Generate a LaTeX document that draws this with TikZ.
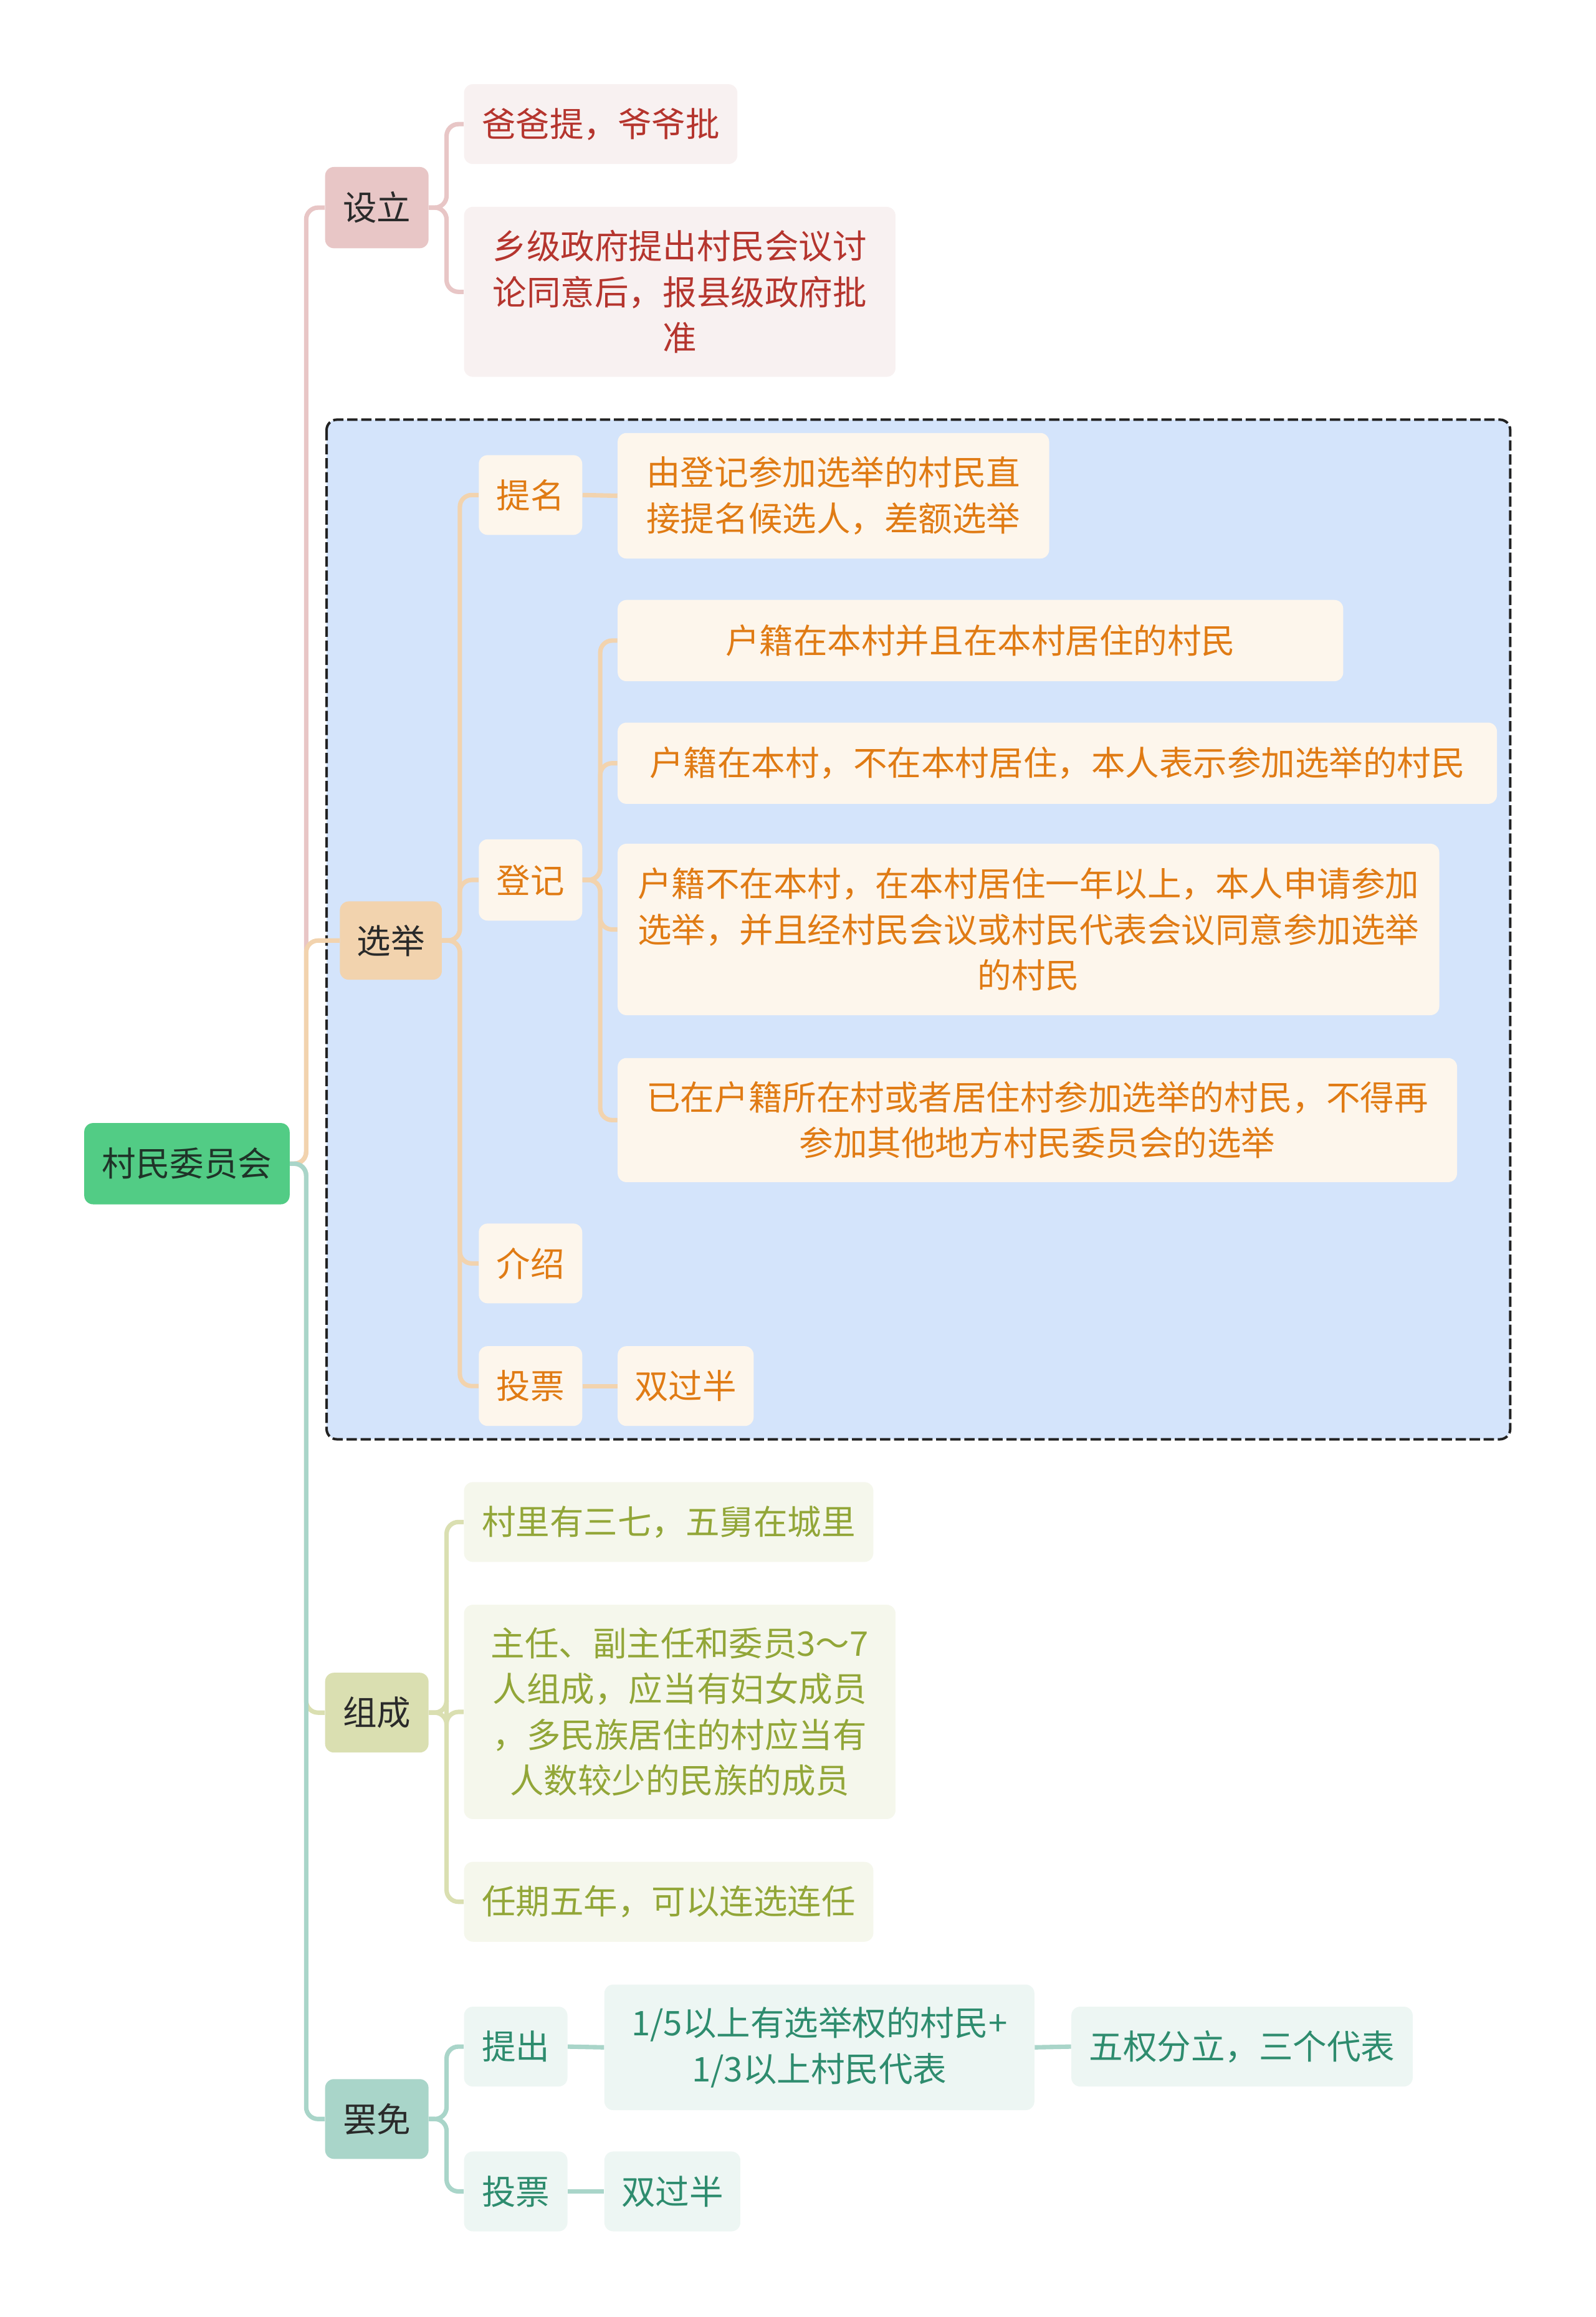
\documentclass[tikz,border=0pt]{standalone}
\usepackage{fontspec}
\newfontfamily\cjk{Noto Sans CJK SC}
\pgfdeclarelayer{bottom}
\pgfdeclarelayer{links}
\pgfsetlayers{bottom,links,main}
\definecolor{rootfill}{HTML}{52CC85}
\definecolor{roottext}{HTML}{1F3328}
\definecolor{lvtext}{HTML}{2A2A2A}
\definecolor{slfill}{HTML}{E8C6C6}
\definecolor{slchild}{HTML}{F8F1F1}
\definecolor{sltext}{HTML}{B5352E}
\definecolor{xjfill}{HTML}{F2D3AE}
\definecolor{xjchild}{HTML}{FDF6EC}
\definecolor{xjtext}{HTML}{E07B14}
\definecolor{zcfill}{HTML}{DADFB1}
\definecolor{zcchild}{HTML}{F5F7EC}
\definecolor{zctext}{HTML}{92A638}
\definecolor{bmfill}{HTML}{A9D5C9}
\definecolor{bmchild}{HTML}{EDF6F3}
\definecolor{bmtext}{HTML}{2E8C6E}
\definecolor{groupfill}{HTML}{D4E4FB}
\definecolor{groupline}{HTML}{222222}
\tikzset{
  nbox/.style={rounded corners=6pt, inner sep=0pt, align=center, anchor=center,
    font=\cjk\fontsize{23}{31}\selectfont},
  rootnode/.style={nbox, fill=rootfill, text=roottext},
  slnode/.style={nbox, fill=slfill, text=lvtext},
  slleaf/.style={nbox, fill=slchild, text=sltext},
  xjnode/.style={nbox, fill=xjfill, text=lvtext},
  xjleaf/.style={nbox, fill=xjchild, text=xjtext},
  zcnode/.style={nbox, fill=zcfill, text=lvtext},
  zcleaf/.style={nbox, fill=zcchild, text=zctext},
  bmnode/.style={nbox, fill=bmfill, text=lvtext},
  bmleaf/.style={nbox, fill=bmchild, text=bmtext},
  conn/.style={line width=3pt, rounded corners=8pt},
  slconn/.style={conn, draw=slfill},
  xjconn/.style={conn, draw=xjfill},
  zcconn/.style={conn, draw=zcfill},
  bmconn/.style={conn, draw=bmfill},
  groupbox/.style={fill=groupfill, draw=groupline, line width=1.7pt, dash pattern=on 7pt off 2.5pt, rounded corners=7pt}
}
\begin{document}
\begin{tikzpicture}[x=1pt,y=-1pt]
\useasboundingbox (0,0) rectangle (1080,1568);
\begin{pgfonlayer}{bottom}
\fill[white] (0,0) rectangle (1080,1568);
\path[groupbox] (221,284) rectangle (1022,974);
\end{pgfonlayer}

% nodes
\node[rootnode, minimum width=139pt, minimum height=55pt] (root) at (126.5,787.5) {村民委员会};

\node[slnode, minimum width=70pt, minimum height=55pt] (sl) at (255,140.5) {设立};
\node[slleaf, minimum width=185pt, minimum height=54pt] (sl1) at (406.5,84) {爸爸提，爷爷批};
\node[slleaf, minimum width=292pt, minimum height=115pt] (sl2) at (460,197.5) {乡级政府提出村民会议讨\\论同意后，报县级政府批\\准};

\node[xjnode, minimum width=69pt, minimum height=53pt] (xj) at (264.5,636.5) {选举};
\node[xjleaf, minimum width=70pt, minimum height=54pt] (tm) at (359,335) {提名};
\node[xjleaf, minimum width=292pt, minimum height=85pt] (tm1) at (564,335.5) {由登记参加选举的村民直\\接提名候选人，差额选举};
\node[xjleaf, minimum width=70pt, minimum height=55pt] (dj) at (359,595.5) {登记};
\node[xjleaf, minimum width=491pt, minimum height=55pt] (dj1) at (663.5,433.5) {户籍在本村并且在本村居住的村民};
\node[xjleaf, minimum width=595pt, minimum height=55pt] (dj2) at (715.5,516.5) {户籍在本村，不在本村居住，本人表示参加选举的村民};
\node[xjleaf, minimum width=556pt, minimum height=116pt] (dj3) at (696,629) {户籍不在本村，在本村居住一年以上，本人申请参加\\选举，并且经村民会议或村民代表会议同意参加选举\\的村民};
\node[xjleaf, minimum width=568pt, minimum height=84pt] (dj4) at (702,758) {已在户籍所在村或者居住村参加选举的村民，不得再\\参加其他地方村民委员会的选举};
\node[xjleaf, minimum width=70pt, minimum height=54pt] (js) at (359,855) {介绍};
\node[xjleaf, minimum width=70pt, minimum height=54pt] (tp) at (359,938) {投票};
\node[xjleaf, minimum width=92pt, minimum height=54pt] (tp1) at (464,938) {双过半};

\node[zcnode, minimum width=70pt, minimum height=54pt] (zc) at (255,1159) {组成};
\node[zcleaf, minimum width=277pt, minimum height=54pt] (zc1) at (452.5,1030) {村里有三七，五舅在城里};
\node[zcleaf, minimum width=292pt, minimum height=145pt] (zc2) at (460,1158.5) {主任、副主任和委员3～7\\人组成，应当有妇女成员\\，多民族居住的村应当有\\人数较少的民族的成员};
\node[zcleaf, minimum width=277pt, minimum height=54pt] (zc3) at (452.5,1287) {任期五年，可以连选连任};

\node[bmnode, minimum width=70pt, minimum height=54pt] (bm) at (255,1434) {罢免};
\node[bmleaf, minimum width=70pt, minimum height=54pt] (tc) at (349,1385) {提出};
\node[bmleaf, minimum width=291pt, minimum height=85pt] (tc1) at (554.5,1385.5) {1/5以上有选举权的村民+\\1/3以上村民代表};
\node[bmleaf, minimum width=231pt, minimum height=54pt] (tc2) at (840.5,1385) {五权分立，三个代表};
\node[bmleaf, minimum width=70pt, minimum height=54pt] (bt) at (349,1483) {投票};
\node[bmleaf, minimum width=92pt, minimum height=54pt] (bt1) at (455,1483) {双过半};

% connectors (behind nodes)
\begin{pgfonlayer}{links}
\draw[slconn] (root.east) -- ++(11,0) |- (sl.west);
\draw[zcconn] (root.east) -- ++(11,0) |- (zc.west);
\draw[xjconn] (root.east) -- ++(11,0) |- (xj.west);
\draw[bmconn] (root.east) -- ++(11,0) |- (bm.west);

\draw[slconn] (sl.east) -- ++(12,0) |- (sl1.west);
\draw[slconn] (sl.east) -- ++(12,0) |- (sl2.west);

\draw[xjconn] (xj.east) -- ++(12,0) |- (tm.west);
\draw[xjconn] (xj.east) -- ++(12,0) |- (dj.west);
\draw[xjconn] (xj.east) -- ++(12,0) |- (js.west);
\draw[xjconn] (xj.east) -- ++(12,0) |- (tp.west);
\draw[xjconn] (tm.east) -- (tm1.west);
\draw[xjconn] (dj.east) -- ++(12,0) |- (dj1.west);
\draw[xjconn] (dj.east) -- ++(12,0) |- (dj2.west);
\draw[xjconn] (dj.east) -- ++(12,0) |- (dj3.west);
\draw[xjconn] (dj.east) -- ++(12,0) |- (dj4.west);
\draw[xjconn] (tp.east) -- (tp1.west);

\draw[zcconn] (zc.east) -- ++(12,0) |- (zc1.west);
\draw[zcconn] (zc.east) -- ++(12,0) |- (zc2.west);
\draw[zcconn] (zc.east) -- ++(12,0) |- (zc3.west);

\draw[bmconn] (bm.east) -- ++(12,0) |- (tc.west);
\draw[bmconn] (bm.east) -- ++(12,0) |- (bt.west);
\draw[bmconn] (tc.east) -- (tc1.west);
\draw[bmconn] (tc1.east) -- (tc2.west);
\draw[bmconn] (bt.east) -- (bt1.west);
\end{pgfonlayer}
\end{tikzpicture}
\end{document}
